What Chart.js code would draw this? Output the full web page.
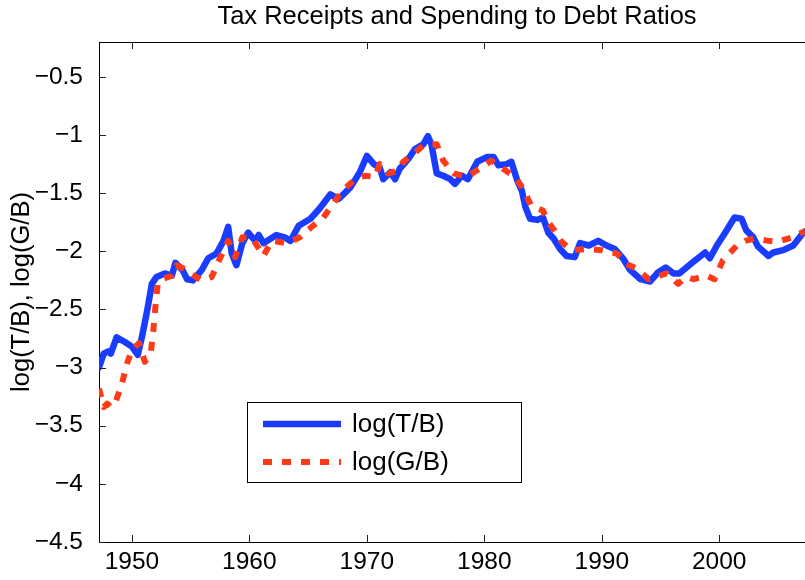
<!DOCTYPE html>
<html>
<head>
<meta charset="utf-8">
<script src="https://cdn.jsdelivr.net/npm/chart.js@4.4.1/dist/chart.umd.min.js"></script>
<style>
    html, body { margin: 0; padding: 0; background: #fff; }
</style>
</head>
<body>
<canvas id="chart" width="805" height="580"></canvas>
<script>
// 제목 / 축 라벨
const chartTitle = 'Tax Receipts and Spending to Debt Ratios';
const yAxisTitle = 'log(T/B), log(G/B)';

// 눈금
const xTicks = [1950, 1960, 1970, 1980, 1990, 2000];
const yTicks = [-4.5, -4, -3.5, -3, -2.5, -2, -1.5, -1, -0.5];

// log(T/B)
const taxYears = [1947.2, 1947.6, 1948.0, 1948.2, 1948.7, 1949.4, 1950.0, 1950.5, 1950.85, 1951.3,
    1951.7, 1952.1, 1952.8, 1953.4, 1953.7, 1954.3, 1954.7, 1955.2, 1955.95, 1956.5,
    1957.2, 1957.8, 1958.2, 1958.5, 1958.9, 1959.4, 1959.9, 1960.5, 1960.8, 1961.2,
    1962.3, 1963.0, 1963.5, 1964.2, 1965.2, 1966.0, 1966.9, 1967.6, 1968.6, 1969.4,
    1970.0, 1970.6, 1971.1, 1971.4, 1972.0, 1972.4, 1972.8, 1973.5, 1974.1, 1974.8,
    1975.2, 1975.5, 1975.95, 1976.5, 1977.1, 1977.5, 1978.1, 1978.6, 1979.4, 1980.2,
    1980.8, 1981.2, 1981.9, 1982.3, 1982.8, 1983.2, 1983.5, 1983.9, 1984.5, 1985.0,
    1985.45, 1985.9, 1986.45, 1987.0, 1987.7, 1988.15, 1988.9, 1989.7, 1990.4, 1991.1,
    1991.8, 1992.4, 1993.3, 1994.1, 1994.8, 1995.45, 1996.1, 1996.6, 1997.8, 1998.8,
    1999.2, 1999.8, 2000.5, 2001.3, 2001.9, 2002.3, 2002.9, 2003.3, 2004.2, 2004.6,
    2005.45, 2006.3, 2007.15, 2007.3];
const taxValues = [-3.00, -2.88, -2.86, -2.88, -2.74, -2.78, -2.82, -2.89, -2.74, -2.51,
    -2.28, -2.22, -2.19, -2.21, -2.10, -2.16, -2.24, -2.25, -2.16, -2.06,
    -2.02, -1.91, -1.79, -2.02, -2.12, -1.93, -1.84, -1.91, -1.86, -1.93,
    -1.86, -1.88, -1.91, -1.78, -1.72, -1.63, -1.51, -1.55, -1.45, -1.32,
    -1.18, -1.25, -1.28, -1.38, -1.32, -1.38, -1.29, -1.21, -1.12, -1.08,
    -1.01, -1.08, -1.33, -1.35, -1.38, -1.42, -1.35, -1.38, -1.23, -1.19,
    -1.19, -1.26, -1.25, -1.23, -1.39, -1.48, -1.62, -1.72, -1.73, -1.71,
    -1.84, -1.89, -1.98, -2.04, -2.05, -1.93, -1.95, -1.91, -1.95, -1.98,
    -2.06, -2.16, -2.24, -2.26, -2.18, -2.14, -2.19, -2.19, -2.09, -2.01,
    -2.06, -1.95, -1.84, -1.71, -1.72, -1.82, -1.88, -1.96, -2.04, -2.01,
    -1.99, -1.95, -1.84, -1.83];

// log(G/B)
const spendYears = [1947.2, 1947.6, 1947.9, 1948.2, 1948.6, 1949.15, 1949.6, 1950.0, 1950.6, 1951.1,
    1951.6, 1951.8, 1952.0, 1952.2, 1952.55, 1953.4, 1953.8, 1954.4, 1954.96, 1955.95,
    1956.8, 1957.5, 1958.2, 1958.8, 1959.4, 1960.2, 1961.2, 1961.9, 1963.2, 1964.3,
    1965.3, 1966.3, 1967.0, 1967.9, 1969.0, 1969.85, 1970.7, 1971.1, 1971.8, 1972.55,
    1973.1, 1974.0, 1974.8, 1975.95, 1976.5, 1977.4, 1978.5, 1979.6, 1980.6, 1981.6,
    1982.6, 1983.3, 1984.0, 1985.0, 1985.3, 1985.9, 1986.6, 1987.45, 1988.7, 1990.0,
    1991.3, 1992.1, 1993.0, 1994.0, 1995.5, 1996.5, 1997.2, 1997.8, 1998.9, 1999.6,
    2000.3, 2001.5, 2002.2, 2003.0, 2004.2, 2004.9, 2006.2, 2007.0, 2007.3];
const spendValues = [-3.18, -3.34, -3.31, -3.34, -3.30, -3.14, -2.96, -2.85, -2.79, -2.95,
    -2.88, -2.71, -2.48, -2.28, -2.24, -2.21, -2.12, -2.15, -2.19, -2.25,
    -2.22, -2.06, -1.91, -2.05, -1.88, -1.88, -2.04, -1.91, -1.93, -1.88,
    -1.79, -1.71, -1.61, -1.48, -1.38, -1.35, -1.36, -1.25, -1.33, -1.31,
    -1.23, -1.16, -1.09, -1.08, -1.22, -1.33, -1.36, -1.29, -1.22, -1.29,
    -1.36, -1.46, -1.61, -1.65, -1.73, -1.81, -1.92, -1.99, -1.98, -1.99,
    -2.02, -2.11, -2.15, -2.24, -2.19, -2.28, -2.22, -2.24, -2.21, -2.24,
    -2.08, -1.95, -1.91, -1.89, -1.91, -1.92, -1.88, -1.84, -1.83];

const FONT = "'Liberation Sans', Arial, Helvetica, sans-serif";
const BLUE = '#1a3cff';
const RED = '#ff3a17';

const toPoints = (xs, ys) => xs.map((x, i) => ({ x: x, y: ys[i] }));
const fmt = (v) => (v < 0 ? '\u2212' + String(Math.abs(v)) : String(v));

// 제목, 박스, 안쪽 눈금, 범례
const matlabLook = {
    id: 'matlabLook',
    afterDraw(chart) {
        const ctx = chart.ctx;
        const area = chart.chartArea;
        const xs = chart.scales.x;
        const ys = chart.scales.y;
        ctx.save();

        // 제목
        ctx.fillStyle = '#000';
        ctx.font = '25.5px ' + FONT;
        ctx.textAlign = 'center';
        ctx.textBaseline = 'middle';
        ctx.fillText(chartTitle, (area.left + area.right) / 2 + 5, 17);

        // 위쪽 테두리
        ctx.strokeStyle = '#000';
        ctx.lineWidth = 1;
        ctx.beginPath();
        ctx.moveTo(area.left, area.top + 0.5);
        ctx.lineTo(area.right, area.top + 0.5);
        ctx.stroke();

        // 안쪽 눈금
        ctx.strokeStyle = '#222';
        ctx.beginPath();
        xTicks.forEach((v) => {
            const px = Math.round(xs.getPixelForValue(v)) + 0.5;
            ctx.moveTo(px, area.bottom);
            ctx.lineTo(px, area.bottom - 7);
            ctx.moveTo(px, area.top);
            ctx.lineTo(px, area.top + 7);
        });
        yTicks.forEach((v) => {
            const py = Math.round(ys.getPixelForValue(v)) + 0.5;
            ctx.moveTo(area.left, py);
            ctx.lineTo(area.left + 7, py);
        });
        ctx.stroke();

        // 범례
        const box = { x: 247, y: 402, w: 275, h: 81 };
        ctx.fillStyle = '#fff';
        ctx.fillRect(box.x, box.y, box.w, box.h);
        ctx.strokeStyle = '#000';
        ctx.lineWidth = 1;
        ctx.strokeRect(box.x + 0.5, box.y + 0.5, box.w - 1, box.h - 1);

        const rows = [424, 462];
        chart.data.datasets.forEach((ds, i) => {
            ctx.strokeStyle = ds.borderColor;
            ctx.lineWidth = ds.borderWidth;
            ctx.setLineDash(ds.borderDash || []);
            ctx.beginPath();
            ctx.moveTo(263, rows[i]);
            ctx.lineTo(341, rows[i]);
            ctx.stroke();
            ctx.setLineDash([]);
            ctx.fillStyle = '#000';
            ctx.font = '26px ' + FONT;
            ctx.textAlign = 'left';
            ctx.textBaseline = 'middle';
            ctx.fillText(ds.label, 352, rows[i] + 1);
        });

        ctx.restore();
    },
};

const ctx = document.getElementById('chart').getContext('2d');
new Chart(ctx, {
    type: 'line',
    data: {
        datasets: [
            {
                label: 'log(T/B)',
                data: toPoints(taxYears, taxValues),
                borderColor: BLUE,
                borderWidth: 6.5,
                borderJoinStyle: 'round',
                borderCapStyle: 'round',
                pointRadius: 0,
                tension: 0,
                order: 1,
            },
            {
                label: 'log(G/B)',
                data: toPoints(spendYears, spendValues),
                borderColor: RED,
                borderWidth: 6,
                borderDash: [9, 10],
                borderJoinStyle: 'round',
                pointRadius: 0,
                tension: 0,
                order: 0,
            },
        ],
    },
    options: {
        responsive: false,
        animation: false,
        layout: { padding: { top: 42, right: 0, bottom: 0, left: 0 } },
        plugins: {
            legend: { display: false },
            title: { display: false },
            tooltip: { enabled: false },
        },
        scales: {
            x: {
                type: 'linear',
                min: 1947.2,
                max: 2007.3,
                afterFit: (s) => { s.height = 38; },
                afterBuildTicks: (s) => { s.ticks = xTicks.map((v) => ({ value: v })); },
                grid: { display: false, drawTicks: false },
                border: { display: true, color: '#000', width: 1 },
                ticks: {
                    color: '#000',
                    font: { family: FONT, size: 24.5 },
                    padding: 6,
                    maxRotation: 0,
                    callback: (v) => String(v),
                },
            },
            y: {
                min: -4.5,
                max: -0.2,
                afterFit: (s) => { s.width = 99; },
                afterBuildTicks: (s) => { s.ticks = yTicks.map((v) => ({ value: v })); },
                grid: { display: false, drawTicks: false },
                border: { display: true, color: '#000', width: 1 },
                ticks: {
                    color: '#000',
                    font: { family: FONT, size: 24.5 },
                    padding: 16,
                    callback: (v) => fmt(v),
                },
                title: {
                    display: true,
                    text: yAxisTitle,
                    color: '#000',
                    font: { family: FONT, size: 25.5 },
                    padding: { top: 7, bottom: 0 },
                },
            },
        },
    },
    plugins: [matlabLook],
});
</script>
</body>
</html>
